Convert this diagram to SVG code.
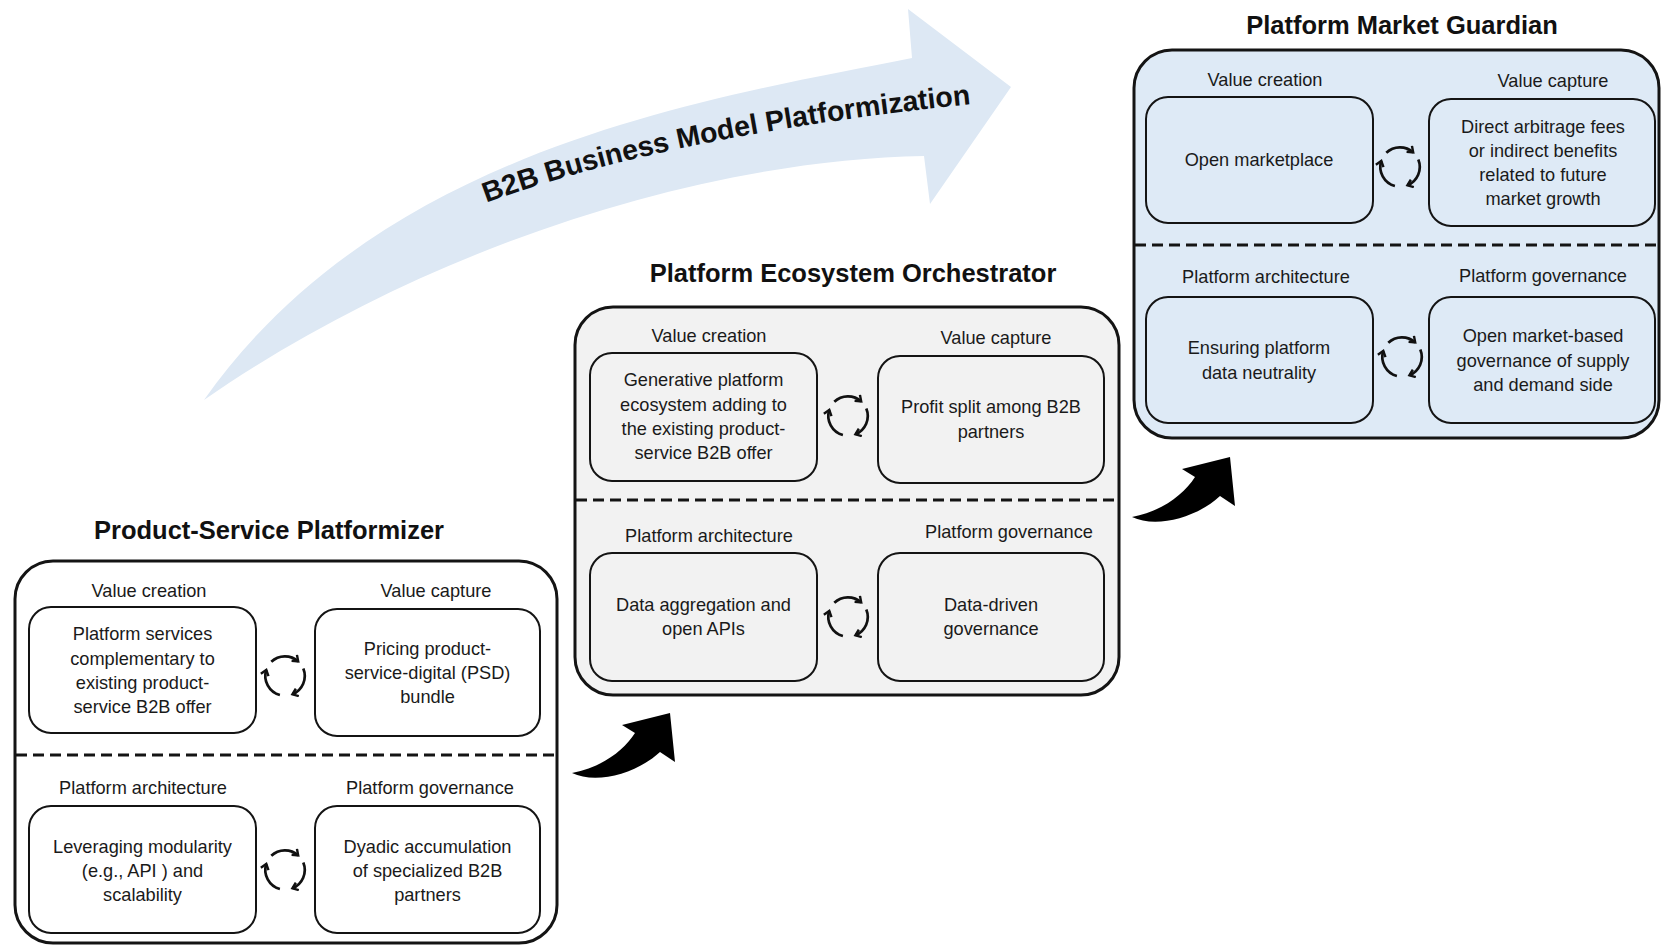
<svg xmlns="http://www.w3.org/2000/svg" width="1661" height="947" viewBox="0 0 1661 947">
<style>
.outer{stroke:#141414;stroke-width:3}
.inner{stroke:#141414;stroke-width:2}
.w{fill:#ffffff}
.g{fill:#f2f2f2}
.bl{fill:#deeaf6}
.title{font-family:"Liberation Sans",Arial,sans-serif;font-weight:bold;font-size:25.5px;text-anchor:middle;fill:#111}
.t{font-family:"Liberation Sans",Arial,sans-serif;font-size:18.2px;text-anchor:middle;fill:#1a1a1a}
.dash{stroke:#141414;stroke-width:3;stroke-dasharray:11 6;fill:none}
.cyc{fill:none;stroke:#111;stroke-width:2.7;marker-end:url(#chev)}
.big{font-family:"Liberation Sans",Arial,sans-serif;font-weight:bold;font-size:28.5px;fill:#111}
</style>
<defs>
<marker id="chev" viewBox="0 0 10 10" markerWidth="10" markerHeight="10" refX="6.5" refY="5" orient="auto" markerUnits="userSpaceOnUse">
<path d="M1.2,1 L6.5,5 L1.2,9" fill="none" stroke="#111" stroke-width="2.4"/>
</marker>
<g id="cycle">
<path class="cyc" d="M -13.7 -14.2 A 19.7 19.7 0 0 1 13.2 -14.6"/>
<path class="cyc" d="M 18.3 -7.4 A 19.7 19.7 0 0 1 7.4 18.3"/>
<path class="cyc" d="M -5.1 19.0 A 19.7 19.7 0 0 1 -18.7 -6.1"/>
</g>
<path id="stepArrow" d="M 572 773 C 595 784, 635 775, 660 752 L 675 762 L 670 713 L 622 725 L 635 733 C 624 750, 603 767, 572 773 Z" fill="#000"/>
<path id="bigTextPath" d="M 486 203 Q 671 135 972 104" fill="none"/>
</defs>

<g id="platformization-arrow">
<path d="M 204 400 C 380 150, 700 100, 912 58 L 908 9 L 1011 87 L 930 204 L 924 156 C 700 160, 420 250, 204 400 Z" fill="#dde8f4"/>
<text class="big"><textPath href="#bigTextPath" startOffset="50%" text-anchor="middle">B2B Business Model Platformization</textPath></text>
</g>

<g id="product-service-platformizer">
<text class="title" x="269" y="539">Product-Service Platformizer</text>
<rect class="outer w" x="15" y="561" width="542" height="382" rx="38"/>
<line class="dash" x1="16" y1="755" x2="556" y2="755"/>
<text class="t" x="149" y="597">Value creation</text>
<text class="t" x="436" y="597">Value capture</text>
<text class="t" x="143" y="794">Platform architecture</text>
<text class="t" x="430" y="794">Platform governance</text>
<g id="psp-value-creation">
<rect class="inner w" x="29" y="607" width="227" height="126" rx="22"/>
<text class="t"><tspan x="142.5" y="640">Platform services</tspan><tspan x="142.5" y="665">complementary to</tspan><tspan x="142.5" y="689">existing product-</tspan><tspan x="142.5" y="713">service B2B offer</tspan></text>
</g>
<g id="psp-value-capture">
<rect class="inner w" x="315" y="609" width="225" height="127" rx="22"/>
<text class="t"><tspan x="427.5" y="655">Pricing product-</tspan><tspan x="427.5" y="679">service-digital (PSD)</tspan><tspan x="427.5" y="703">bundle</tspan></text>
</g>
<g id="psp-architecture">
<rect class="inner w" x="29" y="806" width="227" height="127" rx="22"/>
<text class="t"><tspan x="142.5" y="853">Leveraging modularity</tspan><tspan x="142.5" y="877">(e.g., API ) and</tspan><tspan x="142.5" y="901">scalability</tspan></text>
</g>
<g id="psp-governance">
<rect class="inner w" x="315" y="806" width="225" height="127" rx="22"/>
<text class="t"><tspan x="427.5" y="853">Dyadic accumulation</tspan><tspan x="427.5" y="877">of specialized B2B</tspan><tspan x="427.5" y="901">partners</tspan></text>
</g>
</g>

<g id="platform-ecosystem-orchestrator">
<text class="title" x="853" y="282">Platform Ecosystem Orchestrator</text>
<rect class="outer g" x="575" y="307" width="544" height="388" rx="38"/>
<line class="dash" x1="576" y1="500" x2="1118" y2="500"/>
<text class="t" x="709" y="342">Value creation</text>
<text class="t" x="996" y="344">Value capture</text>
<text class="t" x="709" y="542">Platform architecture</text>
<text class="t" x="1009" y="538">Platform governance</text>
<g id="peo-value-creation">
<rect class="inner g" x="590" y="353" width="227" height="128" rx="22"/>
<text class="t"><tspan x="703.5" y="386">Generative platform</tspan><tspan x="703.5" y="411">ecosystem adding to</tspan><tspan x="703.5" y="435">the existing product-</tspan><tspan x="703.5" y="459">service B2B offer</tspan></text>
</g>
<g id="peo-value-capture">
<rect class="inner g" x="878" y="356" width="226" height="127" rx="22"/>
<text class="t"><tspan x="991" y="413">Profit split among B2B</tspan><tspan x="991" y="438">partners</tspan></text>
</g>
<g id="peo-architecture">
<rect class="inner g" x="590" y="553" width="227" height="128" rx="22"/>
<text class="t"><tspan x="703.5" y="611">Data aggregation and</tspan><tspan x="703.5" y="635">open APIs</tspan></text>
</g>
<g id="peo-governance">
<rect class="inner g" x="878" y="553" width="226" height="128" rx="22"/>
<text class="t"><tspan x="991" y="611">Data-driven</tspan><tspan x="991" y="635">governance</tspan></text>
</g>
</g>

<g id="platform-market-guardian">
<text class="title" x="1402" y="34">Platform Market Guardian</text>
<rect class="outer bl" x="1134" y="50" width="525" height="388" rx="38"/>
<line class="dash" x1="1135" y1="245" x2="1659" y2="245"/>
<text class="t" x="1265" y="86">Value creation</text>
<text class="t" x="1553" y="87">Value capture</text>
<text class="t" x="1266" y="283">Platform architecture</text>
<text class="t" x="1543" y="282">Platform governance</text>
<g id="pmg-value-creation">
<rect class="inner bl" x="1146" y="97" width="227" height="126" rx="22"/>
<text class="t" x="1259" y="166">Open marketplace</text>
</g>
<g id="pmg-value-capture">
<rect class="inner bl" x="1429" y="99" width="226" height="127" rx="22"/>
<text class="t"><tspan x="1543" y="133">Direct arbitrage fees</tspan><tspan x="1543" y="157">or indirect benefits</tspan><tspan x="1543" y="181">related to future</tspan><tspan x="1543" y="205">market growth</tspan></text>
</g>
<g id="pmg-architecture">
<rect class="inner bl" x="1146" y="297" width="227" height="126" rx="22"/>
<text class="t"><tspan x="1259" y="354">Ensuring platform</tspan><tspan x="1259" y="379">data neutrality</tspan></text>
</g>
<g id="pmg-governance">
<rect class="inner bl" x="1429" y="297" width="226" height="126" rx="22"/>
<text class="t"><tspan x="1543" y="342">Open market-based</tspan><tspan x="1543" y="367">governance of supply</tspan><tspan x="1543" y="391">and demand side</tspan></text>
</g>
</g>

<g id="connectors">
<use href="#cycle" x="285" y="676"/>
<use href="#cycle" x="285" y="870"/>
<use href="#cycle" x="848" y="416"/>
<use href="#cycle" x="848" y="617"/>
<use href="#cycle" x="1400" y="167"/>
<use href="#cycle" x="1402" y="357"/>
<use href="#stepArrow"/>
<use href="#stepArrow" x="560" y="-256"/>
</g>
</svg>
